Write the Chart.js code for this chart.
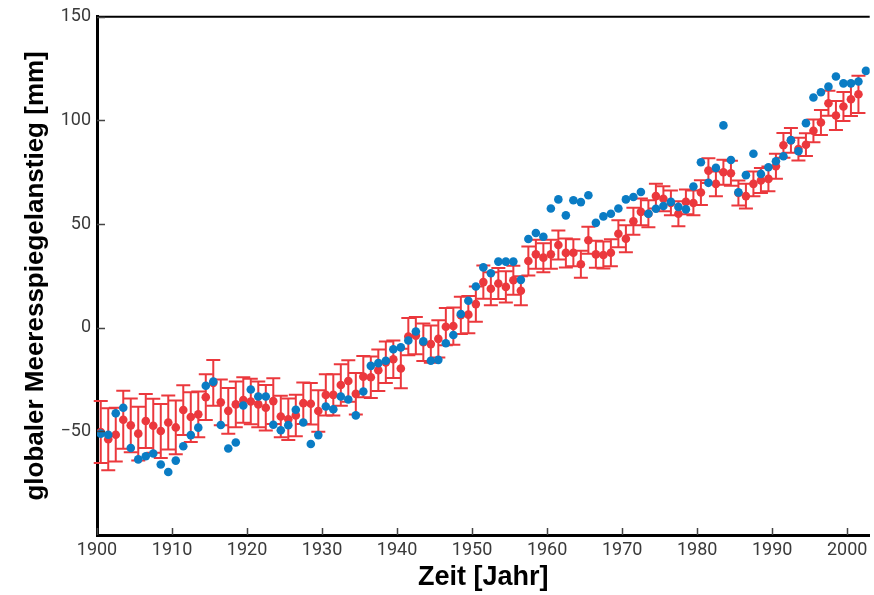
<!DOCTYPE html>
<html>
<head>
<meta charset="utf-8">
<script src="https://cdn.jsdelivr.net/npm/chart.js@4.4.1/dist/chart.umd.min.js"></script>
<style>
  html, body { margin: 0; padding: 0; background: #fff; }
  #wrap { width: 874px; height: 595px; }
</style>
</head>
<body>
<div id="wrap"><canvas id="chartSeaLevel"></canvas></div>
<script>
// annual values, plotted at mid-year
const years = Array.from({ length: 103 }, (_, i) => 1900 + i);

// tide gauge reconstruction (mm), 1900-2001
const gaugeLevel = [
  -50.3, -53.8, -51.6, -44.4, -47.1, -51.1, -45.0, -47.3, -49.8, -45.7,
  -48.1, -39.7, -43.1, -41.8, -33.5, -26.6, -36.0, -40.1, -37.0, -34.9,
  -35.6, -37.0, -38.6, -35.4, -42.8, -44.2, -42.3, -36.4, -36.7, -40.2,
  -32.4, -32.4, -27.6, -25.7, -31.9, -23.6, -23.9, -20.5, -16.7, -15.2,
  -19.7, -4.3, -3.8, -7.0, -7.9, -5.4, 0.5, 0.8, 6.0, 6.3,
  11.4, 22.0, 18.8, 21.3, 19.7, 22.9, 17.8, 32.2, 35.4, 33.8,
  35.4, 39.9, 36.1, 36.2, 30.6, 42.2, 35.4, 35.1, 36.2, 45.3,
  42.9, 51.4, 55.9, 55.0, 63.5, 62.2, 60.2, 55.0, 60.7, 60.2,
  65.2, 75.8, 69.4, 75.0, 74.5, 65.0, 63.5, 69.4, 71.0, 71.8,
  77.9, 88.0, 90.4, 86.2, 88.3, 95.0, 99.0, 108.3, 102.4, 106.7,
  110.2, 112.6
];

// uncertainty of the tide gauge values (mm)
const gaugeError = [
  15, 15, 13, 14, 13, 13, 13, 13, 13, 13,
  13, 12, 12, 11, 11, 11, 11, 11, 11, 11,
  11, 11, 11, 11, 10, 10, 10, 10, 10, 10,
  10, 10, 10, 10, 10, 10, 10, 10, 10, 9,
  9.5, 9, 9, 9, 9, 9, 9, 9, 9, 9,
  8.5, 8, 8, 7.5, 7.5, 7, 7, 7, 7, 7,
  7, 7, 7, 6.5, 6.5, 6.5, 6.5, 6.5, 6.5, 6.5,
  6.5, 6.5, 6.5, 6.5, 6, 6, 6, 6, 6, 6,
  6, 6, 6, 6, 6, 6, 6, 6, 6, 6,
  6, 6, 6, 5.5, 5.5, 5.5, 6, 6, 7, 7,
  8, 9
];

// second reconstruction (mm), 1900-2002
const altLevel = [
  -51.1, -51.6, -41.3, -38.6, -58.0, -63.5, -62.0, -60.7, -66.0, -69.6,
  -64.1, -57.2, -51.8, -48.2, -28.0, -26.0, -46.9, -58.3, -55.4, -37.5,
  -29.8, -33.2, -33.2, -46.8, -49.5, -47.0, -39.6, -45.7, -56.1, -51.8,
  -38.0, -39.3, -33.2, -34.6, -42.3, -30.8, -18.4, -17.1, -15.9, -10.4,
  -9.5, -6.2, -1.8, -6.6, -15.9, -15.5, -7.5, -3.5, 6.6, 13.0,
  19.9, 29.1, 26.3, 31.9, 31.9, 31.9, 23.1, 42.8, 45.7, 43.9,
  57.5, 61.9, 54.2, 61.5, 60.6, 63.9, 50.6, 53.7, 55.0, 57.5,
  61.9, 63.1, 65.5, 55.0, 57.4, 58.7, 60.7, 58.3, 57.1, 68.1,
  79.8, 69.9, 77.1, 97.6, 80.9, 65.3, 73.6, 83.9, 74.2, 77.4,
  80.3, 82.7, 90.5, 85.1, 98.7, 111.1, 113.6, 116.3, 121.2, 117.9,
  117.9, 118.8, 123.9
];

const xTicks = [1900, 1910, 1920, 1930, 1940, 1950, 1960, 1970, 1980, 1990, 2000];
const yTicks = [-50, 0, 50, 100, 150];

const red = "#eb383d";
const blue = "#0a7cc4";
const tickText = "#3a3a3a";

const toPoints = (vals) => vals.map((v, i) => ({ x: years[i] + 0.5, y: v }));

// vertical error bars with caps for the tide gauge series
const errorBars = {
  id: "errorBars",
  beforeDatasetsDraw(chart) {
    const { ctx, scales: { x, y } } = chart;
    const cap = 7;
    ctx.save();
    ctx.strokeStyle = red;
    ctx.lineWidth = 2;
    gaugeLevel.forEach((v, i) => {
      const px = x.getPixelForValue(years[i] + 0.5);
      const top = y.getPixelForValue(v + gaugeError[i]);
      const bot = y.getPixelForValue(v - gaugeError[i]);
      ctx.beginPath();
      ctx.moveTo(px, top);
      ctx.lineTo(px, bot);
      ctx.moveTo(px - cap, top);
      ctx.lineTo(px + cap, top);
      ctx.moveTo(px - cap, bot);
      ctx.lineTo(px + cap, bot);
      ctx.stroke();
    });
    ctx.restore();
  }
};

// inward tick marks and the top frame line
const frame = {
  id: "frame",
  afterDraw(chart) {
    const { ctx, chartArea: a, scales: { x, y } } = chart;
    ctx.save();
    ctx.strokeStyle = "#000";
    ctx.lineWidth = 2;
    ctx.beginPath();
    ctx.moveTo(a.left, a.top);
    ctx.lineTo(a.right, a.top);
    ctx.stroke();
    ctx.strokeStyle = "#444";
    ctx.lineWidth = 1.5;
    ctx.beginPath();
    xTicks.forEach((t) => {
      const px = Math.round(x.getPixelForValue(t)) + 0.5;
      ctx.moveTo(px, a.bottom);
      ctx.lineTo(px, a.bottom - 7);
    });
    yTicks.forEach((t) => {
      const py = Math.round(y.getPixelForValue(t)) + 0.5;
      ctx.moveTo(a.left, py);
      ctx.lineTo(a.left + 8, py);
    });
    ctx.stroke();
    ctx.restore();
  }
};

new Chart(document.getElementById("chartSeaLevel"), {
  type: "scatter",
  data: {
    datasets: [
      {
        label: "Rekonstruktion",
        data: toPoints(altLevel),
        backgroundColor: blue,
        borderWidth: 0,
        pointRadius: 4.3,
        pointHoverRadius: 4.3,
        order: 0
      },
      {
        label: "Pegelmessungen",
        data: toPoints(gaugeLevel),
        backgroundColor: red,
        borderWidth: 0,
        pointRadius: 4.3,
        pointHoverRadius: 4.3,
        order: 1
      }
    ]
  },
  options: {
    responsive: true,
    maintainAspectRatio: false,
    animation: false,
    events: [],
    layout: { padding: { top: 15, right: 2, left: 0, bottom: 0 } },
    plugins: { legend: { display: false }, tooltip: { enabled: false } },
    scales: {
      x: {
        type: "linear",
        min: 1900,
        max: 2003,
        afterBuildTicks: (scale) => { scale.ticks = xTicks.map((v) => ({ value: v })); },
        afterFit: (scale) => { scale.height = 60; },
        grid: { display: false, drawTicks: false },
        border: { display: true, color: "#000", width: 3 },
        ticks: {
          color: tickText,
          padding: 5,
          maxRotation: 0,
          font: { family: "Roboto", size: 18 },
          callback: (v) => String(v)
        },
        title: {
          display: true,
          text: "Zeit [Jahr]",
          color: "#000",
          font: { family: "Liberation Sans", size: 27, weight: "bold" },
          padding: { top: 0, bottom: 1 }
        }
      },
      y: {
        min: -100,
        max: 150,
        afterBuildTicks: (scale) => { scale.ticks = yTicks.map((v) => ({ value: v })); },
        afterFit: (scale) => { scale.width = 97; },
        grid: { display: false, drawTicks: false },
        border: { display: true, color: "#000", width: 3 },
        ticks: {
          color: tickText,
          padding: 6,
          font: { family: "Roboto", size: 18 },
          callback: (v) => (v < 0 ? "\u2212" + Math.abs(v) : String(v))
        },
        title: {
          display: true,
          text: "globaler Meeresspiegelanstieg [mm]",
          color: "#000",
          font: { family: "Liberation Sans", size: 26, weight: "bold" },
          padding: { top: 20, bottom: 0 }
        }
      }
    }
  },
  plugins: [errorBars, frame]
});
</script>
</body>
</html>
